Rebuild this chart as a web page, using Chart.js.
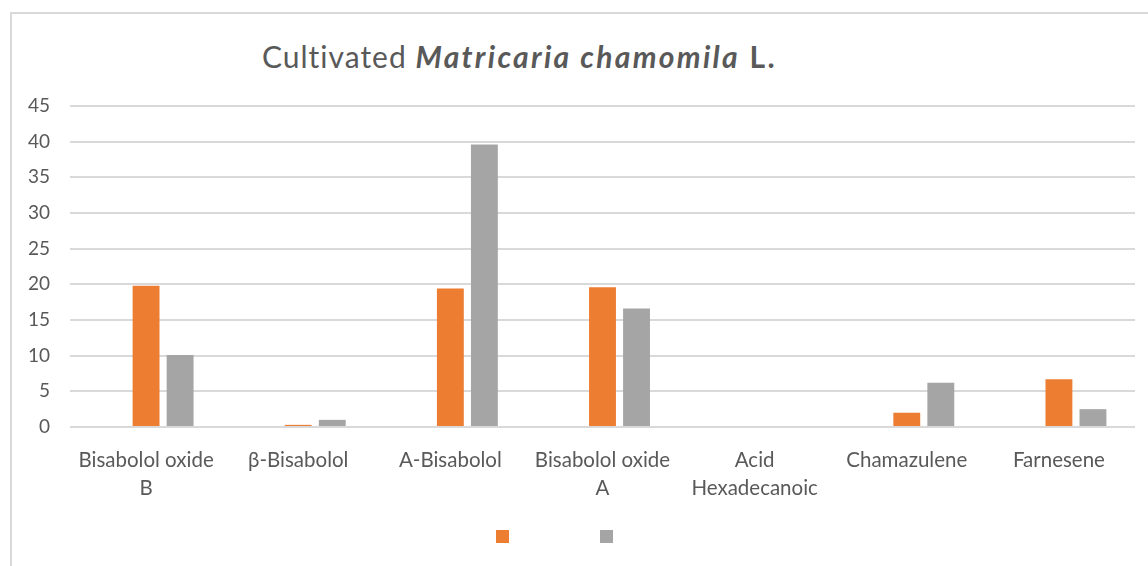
<!DOCTYPE html>
<html><head><meta charset="utf-8">
<script src="https://cdn.jsdelivr.net/npm/chart.js@4.4.1/dist/chart.umd.min.js"></script>
<style>
html,body{margin:0;padding:0;background:#fff;width:1148px;height:566px;overflow:hidden;}
#frame{position:absolute;left:10px;top:12px;width:1200px;height:600px;border-left:2px solid #d9d9d9;border-top:2px solid #d9d9d9;}
#title{position:absolute;left:262px;top:38px;font-family:Lato,sans-serif;font-size:30px;color:#595959;white-space:nowrap;letter-spacing:1px;}
#title b{letter-spacing:2.3px;}
canvas{position:absolute;left:0;top:0;}
</style></head><body>
<div id="frame"></div>
<div id="title">Cultivated <b><i>Matricaria chamomila</i> L.</b></div>
<canvas id="c" width="1148" height="566"></canvas>
<script>
const categories = [["Bisabolol oxide","B"],"β-Bisabolol","A-Bisabolol",["Bisabolol oxide","A"],["Acid","Hexadecanoic"],"Chamazulene","Farnesene"];
const seriesEmpty = [null, null, null, null, null, null, null];
const seriesOrange = [19.8, 0.3, 19.4, 19.6, 0, 2.0, 6.7];
const seriesGray = [10.1, 1.0, 39.6, 16.6, 0, 6.2, 2.5];
const seriesNames = ["", "", ""];
const yMin = 0, yMax = 45, yStep = 5;

const padL = -20;
new Chart(document.getElementById('c'), {
  type: 'bar',
  data: {
    labels: categories,
    datasets: [
      {label: seriesNames[0], data: seriesEmpty, backgroundColor: '#4472C4'},
      {label: seriesNames[1], data: seriesOrange, backgroundColor: '#ED7D31'},
      {label: seriesNames[2], data: seriesGray, backgroundColor: '#A5A5A5'}
    ]
  },
  options: {
    responsive: false,
    devicePixelRatio: 1,
    animation: false,
    categoryPercentage: 0.671,
    barPercentage: 0.79,
    layout: {padding: {left: padL, right: 13, top: 106, bottom: 13}},
    plugins: {
      title: {display: false},
      tooltip: {enabled: false},
      legend: {
        position: 'bottom',
        labels: {boxWidth: 13, boxHeight: 13, padding: 85, font: {size: 12},
                 filter: item => item.datasetIndex !== 0}
      }
    },
    scales: {
      x: {
        grid: {display: false},
        border: {display: false},
        ticks: {color: '#595959', font: {family: 'Lato', size: 20.5, lineHeight: 1.37}, padding: 11, maxRotation: 0, autoSkip: false},
        afterFit: s => { s.height = 18; s._computeLabelArea = () => undefined; }
      },
      y: {
        min: yMin, max: yMax,
        ticks: {stepSize: yStep, color: '#595959', font: {family: 'Lato', size: 19}, padding: 20},
        grid: {color: '#d9d9d9', lineWidth: 2, drawTicks: false},
        border: {display: false},
        afterFit: s => { s.width = 70 - padL; }
      }
    }
  }
});
</script>
</body></html>
